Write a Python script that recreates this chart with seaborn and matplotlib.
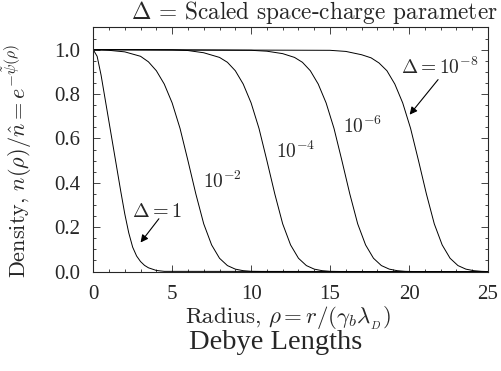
"""
Thermal equilibrium density profiles for several space-charge parameters
"""

import numpy as np
import pandas as pd
import matplotlib
matplotlib.use('Agg')
import matplotlib.pyplot as plt
from matplotlib.ticker import MultipleLocator, FormatStrFormatter
import seaborn as sns

# values
rho_d0 = [0, 0.25, 0.5, 0.75, 1.0, 1.25, 1.5, 1.75, 2.0, 2.25, 2.5, 2.75, 3.0, 3.25, 3.5, 4.0, 4.5, 25]
dens_d0 = [1.0, 0.97, 0.885, 0.78, 0.675, 0.57, 0.465, 0.36, 0.26, 0.175, 0.11, 0.07, 0.045, 0.028,
           0.017, 0.005, 0.001, 0.0]

rho_d2 = [0, 1, 2, 3, 3.5, 4, 4.5, 5, 5.5, 6, 6.5, 7, 7.5, 8, 8.5, 9, 9.5, 10, 11, 25]
dens_d2 = [1.0, 0.997, 0.99, 0.97, 0.945, 0.905, 0.845, 0.76, 0.645, 0.5, 0.35, 0.215, 0.12, 0.06,
           0.027, 0.011, 0.004, 0.001, 0.0, 0.0]

rho_d4 = [0, 5, 6, 7, 8, 8.5, 9, 9.5, 10, 10.5, 11, 11.5, 12, 12.5, 13, 13.5, 14, 14.5, 15, 16, 25]
dens_d4 = [1.0, 0.999, 0.996, 0.986, 0.965, 0.943, 0.905, 0.845, 0.76, 0.645, 0.5, 0.35, 0.215, 0.12,
           0.06, 0.027, 0.011, 0.004, 0.001, 0.0, 0.0]

rho_d6 = [0, 10, 11, 12, 12.75, 13.25, 13.75, 14.25, 14.75, 15.25, 15.75, 16.25, 16.75, 17.25, 17.75,
          18.25, 18.75, 19.25, 19.75, 20.5, 25]
dens_d6 = [1.0, 0.997, 0.993, 0.982, 0.965, 0.943, 0.905, 0.845, 0.76, 0.645, 0.5, 0.35, 0.215, 0.12,
           0.06, 0.027, 0.011, 0.004, 0.001, 0.0, 0.0]

rho_d8 = [0, 15, 16, 17, 17.6, 18.1, 18.6, 19.1, 19.6, 20.1, 20.6, 21.1, 21.6, 22.1, 22.6, 23.1, 23.6,
          24.1, 24.6, 25]
dens_d8 = [1.0, 0.997, 0.992, 0.977, 0.963, 0.94, 0.905, 0.845, 0.76, 0.645, 0.5, 0.35, 0.215, 0.12,
           0.06, 0.027, 0.011, 0.004, 0.001, 0.0]

delta_names = ['1', '1e-2', '1e-4', '1e-6', '1e-8']

curves = [(rho_d0, dens_d0), (rho_d2, dens_d2), (rho_d4, dens_d4), (rho_d6, dens_d6), (rho_d8, dens_d8)]
frames = []
for name, (r, n) in zip(delta_names, curves):
    frames.append(pd.DataFrame({'rho': r, 'density': n, 'delta': name}))
df = pd.concat(frames, ignore_index=True)

sns.set_style('ticks')
plt.rcParams['mathtext.fontset'] = 'cm'
plt.rcParams['font.family'] = ['Liberation Serif', 'DejaVu Serif']

fig = plt.figure(figsize=(5.01, 3.71), dpi=100)
ax = fig.add_axes([0.186, 0.268, 0.788, 0.658])

sns.lineplot(data=df, x='rho', y='density', units='delta', estimator=None, sort=False,
             color='black', linewidth=0.7, ax=ax)

ax.set_xlim(0, 25)
ax.set_ylim(0, 1.1)
ax.xaxis.set_major_locator(MultipleLocator(5))
ax.xaxis.set_minor_locator(MultipleLocator(1))
ax.yaxis.set_major_locator(MultipleLocator(0.2))
ax.yaxis.set_minor_locator(MultipleLocator(0.05))
ax.yaxis.set_major_formatter(FormatStrFormatter('%.1f'))
ax.tick_params(which='both', direction='in', top=True, right=True, width=0.6, labelsize=15)
ax.tick_params(which='major', length=5, pad=9.5)
ax.tick_params(which='minor', length=2.5)
for s in ax.spines.values():
    s.set_linewidth(0.8)
ax.set_xlabel('')
ax.set_ylabel('')

cm_font = ['cmr10', 'DejaVu Serif']
fig.text(0.575, 0.143, r'Radius, $\rho = r/(\gamma_b\lambda_{_D})$', fontsize=16.5, family=cm_font,
         ha='center', va='center')
fig.text(0.034, 0.566, r'Density, $n(\rho)/\hat{n} = e^{-\tilde{\psi}(\rho)}$', fontsize=16,
         family=cm_font, rotation=90, ha='center', va='center')
fig.text(0.628, 0.949, r'$\Delta$ = Scaled space-charge parameter', fontsize=16.8, family=cm_font,
         ha='center', va='baseline')
fig.text(0.551, 0.078, 'Debye Lengths', fontsize=20.5, ha='center', va='center')

# curve labels and arrows
arrow = dict(arrowstyle='-|>', color='black', lw=0.8, mutation_scale=11, shrinkA=0, shrinkB=0)
ax.text(4.03, 0.265, r'$\Delta = 1$', fontsize=14.5, ha='center', va='center')
ax.annotate('', xy=(3.0, 0.131), xytext=(4.16, 0.238), arrowprops=arrow)
ax.text(8.18, 0.405, r'$10^{-2}$', fontsize=14, ha='center', va='center')
ax.text(12.8, 0.542, r'$10^{-4}$', fontsize=14, ha='center', va='center')
ax.text(17.04, 0.655, r'$10^{-6}$', fontsize=14, ha='center', va='center')
ax.text(21.94, 0.921, r'$\Delta = 10^{-8}$', fontsize=14, ha='center', va='center')
ax.annotate('', xy=(20.04, 0.707), xytext=(21.84, 0.865), arrowprops=arrow)

plt.savefig('out.png', dpi=100)
